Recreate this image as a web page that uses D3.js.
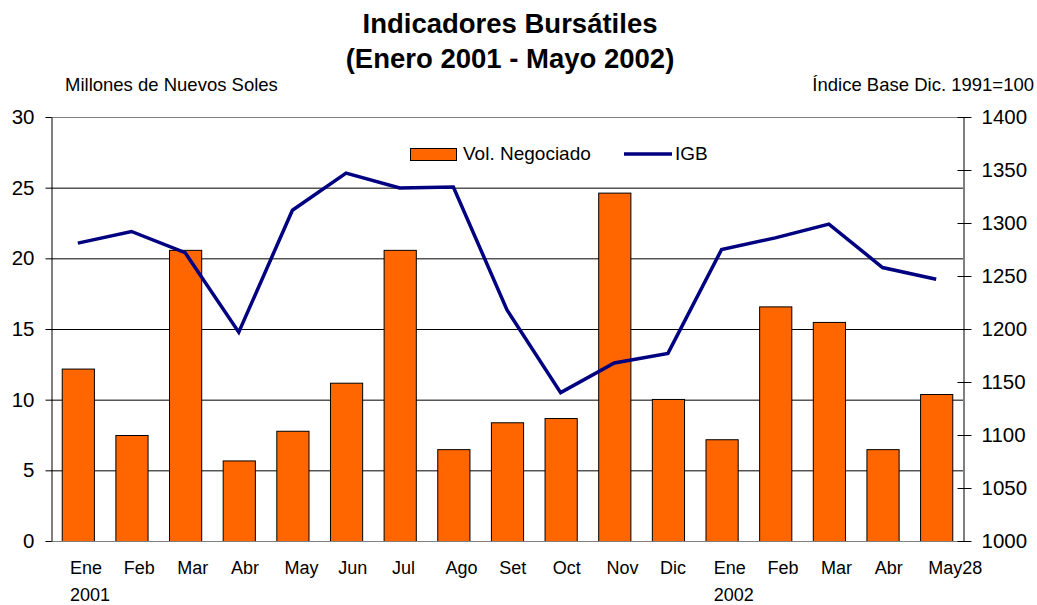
<!DOCTYPE html>
<html><head><meta charset="utf-8">
<script src="https://cdn.jsdelivr.net/npm/d3@7"></script>
<style>body{margin:0;background:#fff}svg{display:block;font-family:"Liberation Sans",Arial,sans-serif}</style>
</head><body><svg id="c" width="1037" height="605"></svg>
<script>
const months = ["Ene","Feb","Mar","Abr","May","Jun","Jul","Ago","Set","Oct","Nov","Dic","Ene","Feb","Mar","Abr","May28"];
const years = ["2001","","","","","","","","","","","","2002","","","",""];
const volNegociado = [12.2,7.5,20.6,5.7,7.8,11.2,20.6,6.5,8.4,8.7,24.65,10.05,7.2,16.6,15.5,6.5,10.4];
const igb = [1281,1292,1272,1197,1312,1347,1333,1334,1218,1140,1168,1177,1275,1286,1299,1258,1247];
const leftTicks = [0,5,10,15,20,25,30];
const rightTicks = [1000,1050,1100,1150,1200,1250,1300,1350,1400];

const svg = d3.select("#c");
const L = 51, R = 963, T = 117, B = 541;
const idx = months.map((d,i)=>i);
const x = d3.scaleBand().domain(idx).range([L,R]).paddingInner(0.4).paddingOuter(0.2);
const xb = d3.scaleBand().domain(idx).range([L,R]);
const yL = d3.scaleLinear().domain([0,30]).range([B,T]);
const yR = d3.scaleLinear().domain([1000,1400]).range([B,T]);

// gridlines
svg.append("g").selectAll("line").data(leftTicks.filter(d=>d>0&&d<30)).join("line")
  .attr("x1",L).attr("x2",R).attr("y1",d=>yL(d)+0.5).attr("y2",d=>yL(d)+0.5)
  .attr("stroke","#000").attr("stroke-width",1);
svg.append("line").attr("x1",L).attr("x2",R).attr("y1",T+0.5).attr("y2",T+0.5).attr("stroke","#808080");

// bars
svg.append("g").selectAll("rect").data(volNegociado).join("rect")
  .attr("x",(d,i)=>x(i)+0.5).attr("width",x.bandwidth())
  .attr("y",d=>yL(d)+0.5).attr("height",d=>B-yL(d))
  .attr("fill","#ff6600").attr("stroke","#000").attr("stroke-width",1);

// baseline
svg.append("line").attr("x1",L).attr("x2",R).attr("y1",B+0.5).attr("y2",B+0.5).attr("stroke","#808080");

// line
const line = d3.line().x((d,i)=>xb(i)+xb.bandwidth()/2).y(d=>yR(d));
svg.append("path").datum(igb).attr("d",line).attr("fill","none")
  .attr("stroke","#000080").attr("stroke-width",3.5).attr("stroke-linejoin","miter");

// left axis
const ga = svg.append("g").attr("transform",`translate(${L+0.5},0)`)
  .call(d3.axisLeft(yL).tickValues(leftTicks).tickSize(6).tickPadding(11).tickSizeOuter(0));
ga.select(".domain").attr("stroke","#000");
ga.selectAll("text").attr("font-size","20.5px").attr("fill","#000").attr("font-family","Liberation Sans, Arial, sans-serif");
ga.selectAll(".tick line").attr("stroke","#000");

// right axis
const gr = svg.append("g").attr("transform",`translate(${R+0.5},0)`)
  .call(d3.axisRight(yR).tickValues(rightTicks).tickFormat(d3.format("d")).tickSize(8).tickPadding(10).tickSizeOuter(0));
gr.select(".domain").attr("stroke","#000");
gr.selectAll(".tick line").attr("x1",-6).attr("stroke","#000");
gr.selectAll("text").attr("font-size","20.5px").attr("fill","#000").attr("font-family","Liberation Sans, Arial, sans-serif");

// category labels
svg.append("g").selectAll("text").data(months).join("text")
  .attr("x",(d,i)=>xb(i)+19).attr("y",574).attr("font-size","18px").text(d=>d);
svg.append("g").selectAll("text").data(years).join("text")
  .attr("x",(d,i)=>xb(i)+19).attr("y",601).attr("font-size","18px").text(d=>d);

// titles
svg.append("text").attr("x",510).attr("y",33).attr("text-anchor","middle")
  .attr("font-size","27.5px").attr("font-weight","bold").text("Indicadores Bursátiles");
svg.append("text").attr("x",510).attr("y",68).attr("text-anchor","middle")
  .attr("font-size","27.5px").attr("font-weight","bold").text("(Enero 2001 - Mayo 2002)");
svg.append("text").attr("x",65).attr("y",91).attr("font-size","18.5px").text("Millones de Nuevos Soles");
svg.append("text").attr("x",1034).attr("y",91).attr("text-anchor","end").attr("font-size","18.5px").text("Índice Base Dic. 1991=100");

// legend
svg.append("rect").attr("x",410.5).attr("y",148.5).attr("width",46).attr("height",12)
  .attr("fill","#ff6600").attr("stroke","#000");
svg.append("text").attr("x",463).attr("y",160).attr("font-size","19px").text("Vol. Negociado");
svg.append("line").attr("x1",624).attr("x2",672).attr("y1",154).attr("y2",154)
  .attr("stroke","#000080").attr("stroke-width",3.5);
svg.append("text").attr("x",675).attr("y",160).attr("font-size","19px").text("IGB");
</script></body></html>
